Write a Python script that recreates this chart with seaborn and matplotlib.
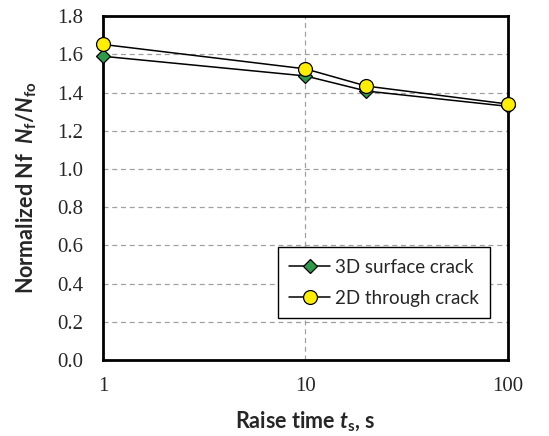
import matplotlib
matplotlib.use("Agg")
import matplotlib.pyplot as plt
import matplotlib.ticker as mticker
import seaborn as sns
import pandas as pd

# Raise time (s) and normalized fatigue life for both crack models
raise_time = [1, 10, 20, 100]
surface_3d = [1.59, 1.487, 1.408, 1.328]
through_2d = [1.652, 1.524, 1.434, 1.340]
series_names = ["3D surface crack", "2D through crack"]
y_ticks = [0.0, 0.2, 0.4, 0.6, 0.8, 1.0, 1.2, 1.4, 1.6, 1.8]
x_ticks = [1, 10, 100]

df = pd.DataFrame({
    "t": raise_time * 2,
    "ratio": surface_3d + through_2d,
    "model": [series_names[0]] * len(raise_time) + [series_names[1]] * len(raise_time),
})

sns.set_style("white")
plt.rcParams["font.family"] = ["Liberation Serif", "DejaVu Serif"]
plt.rcParams["mathtext.fontset"] = "custom"
plt.rcParams["mathtext.it"] = "Lato:bold:italic"
plt.rcParams["mathtext.rm"] = "Lato:bold"
plt.rcParams["mathtext.bf"] = "Lato:bold"

fig = plt.figure(figsize=(5.49, 4.36), dpi=100)
ax = fig.add_axes([0.1876, 0.174, 0.7377, 0.789])

styles = {
    series_names[0]: dict(marker="D", markersize=7, markerfacecolor="#2e9a4a"),
    series_names[1]: dict(marker="o", markersize=10, markerfacecolor="#ffee00"),
}
for name in series_names:
    sub = df[df["model"] == name]
    sns.lineplot(data=sub, x="t", y="ratio", ax=ax, color="black", linewidth=1.1,
                 markeredgecolor="black", markeredgewidth=0.9, label=name,
                 clip_on=False, zorder=3, **styles[name])

ax.set_xscale("log")
ax.set_xlim(1, 100)
ax.set_ylim(0, 1.8)
ax.set_xticks(x_ticks)
ax.xaxis.set_major_formatter(mticker.FuncFormatter(lambda v, p: f"{v:g}"))
ax.xaxis.set_minor_locator(mticker.LogLocator(base=10, subs=range(2, 10)))
ax.xaxis.set_minor_formatter(mticker.NullFormatter())
ax.set_yticks(y_ticks)
ax.yaxis.set_major_formatter(mticker.FormatStrFormatter("%.1f"))
ax.yaxis.set_minor_locator(mticker.MultipleLocator(0.04))

ax.tick_params(axis="both", which="both", direction="in", color="#555555")
ax.tick_params(axis="both", which="major", length=4.5, width=1.0, labelsize=15)
ax.tick_params(axis="both", which="minor", length=3, width=0.8)
ax.tick_params(axis="x", which="major", pad=12)
ax.tick_params(axis="y", which="major", pad=14)

# dashed grid: horizontal at every major y tick, vertical at the decade
for yv in y_ticks[1:-1]:
    ax.axhline(yv, color="#a0a0a0", linestyle=(0, (4, 3)), linewidth=0.9, zorder=1)
ax.axvline(10, color="#a0a0a0", linestyle=(0, (4, 3)), linewidth=0.9, zorder=1)

for sp in ax.spines.values():
    sp.set_visible(True)
    sp.set_color("black")
    sp.set_linewidth(2.0)

ax.set_xlabel(r"Raise time $t_{\mathrm{s}}$, s", family="Lato", fontweight="bold",
              fontsize=15.5, labelpad=10)
ax.set_ylabel(r"Normalized Nf  $N_{\mathrm{f}}/N_{\mathrm{fo}}$", family="Lato",
              fontweight="bold", fontsize=15.5, labelpad=13)

leg = ax.legend(loc="upper left", bbox_to_anchor=(0.432, 0.328),
                frameon=True, fancybox=False, edgecolor="black",
                framealpha=1, prop={"family": "Lato", "size": 13.5},
                handlelength=2.2, handletextpad=0.25, borderpad=0.6,
                borderaxespad=0, labelspacing=0.75)
leg.get_frame().set_linewidth(1.0)

fig.savefig("out.png", dpi=100)
